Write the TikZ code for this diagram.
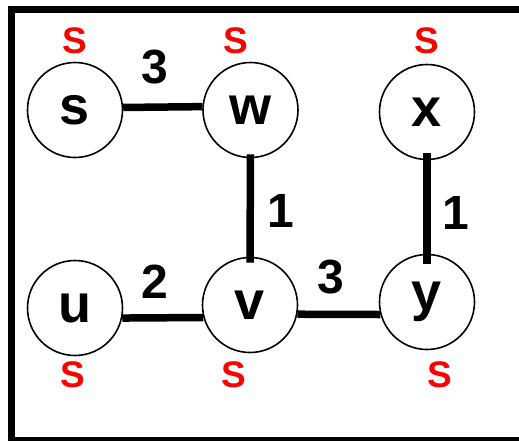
\documentclass[tikz,border=0pt]{standalone}
\usepackage{fontspec}
\setmainfont{Liberation Sans}
\tikzset{
  vtx/.style={draw, circle, line width=1.6pt, minimum size=95pt, inner sep=0pt, font=\fontsize{54}{54}\selectfont\bfseries},
  wt/.style={inner sep=0pt, font=\fontsize{48}{48}\selectfont\bfseries},
  tag/.style={inner sep=0pt, text=red, font=\fontsize{37}{37}\selectfont\bfseries},
  edge/.style={line width=7.5pt}
}
\begin{document}
\begin{tikzpicture}[x=1pt,y=-1pt]
\useasboundingbox (0,0) rectangle (519,440);
\fill[white] (0,0) rectangle (519,440);
\draw[line width=7pt] (11,9.5) rectangle (540,440.5);
\node[vtx] (s) at (75,110) {s};
\node[vtx] (w) at (250.5,110) {w};
\node[vtx] (x) at (427,112) {x};
\node[vtx] (u) at (75,308) {u};
\node[vtx] (v) at (250,305) {v};
\node[vtx] (y) at (427,302) {y};
\draw[edge] (s.3.6) -- (w.176.4);
\draw[edge] ([yshift=4pt]w.south) -- ([yshift=-6pt]v.north);
\draw[edge] ([yshift=7pt]x.south) -- ([yshift=-10pt]y.north);
\draw[edge] (u.-12) -- (v.195.9);
\draw[edge] (v.-11.5) -- (y.195.1);
\node[wt] (l1) at (155,67) {3};
\node[wt] (l2) at (281,211) {1};
\node[wt] (l3) at (456,213) {1};
\node[wt] (l4) at (155,282) {2};
\node[wt] (l5) at (331,277) {3};
\node[tag] (t1) at (75,41) {S};
\node[tag] (t2) at (236,41) {S};
\node[tag] (t3) at (427,41) {S};
\node[tag] (t4) at (73,375) {S};
\node[tag] (t5) at (234,375) {S};
\node[tag] (t6) at (439.5,375) {S};
\end{tikzpicture}
\end{document}
